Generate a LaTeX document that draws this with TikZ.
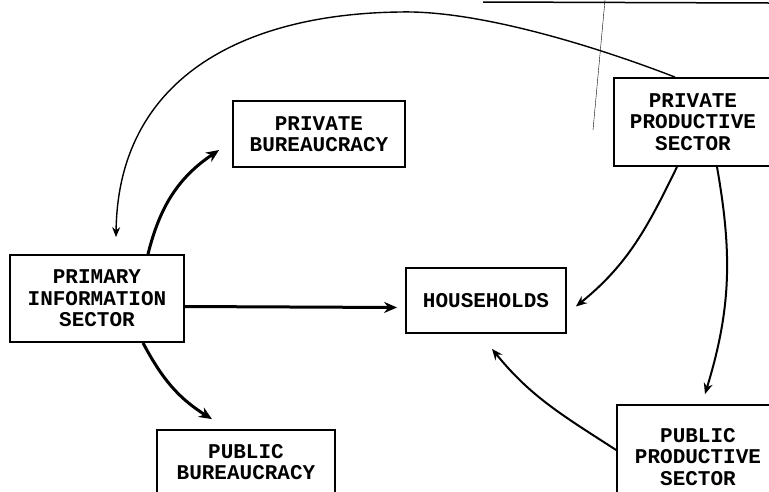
\documentclass[tikz,border=0pt]{standalone}
\usepackage{fontspec}
\setmonofont{Liberation Mono}
\usetikzlibrary{arrows.meta}

\begin{document}
\begin{tikzpicture}[x=1pt,y=-1pt,
        sect/.style={draw,line width=1.8pt,inner sep=0pt,align=center,
            font=\ttfamily\bfseries\fontsize{21}{21.5}\selectfont},
        flow/.style={line width=2pt,-{Stealth[length=11pt,width=9pt]}},
        bigflow/.style={line width=3pt,-{Stealth[length=13pt,width=11pt]}},
        longflow/.style={line width=1.4pt,-{Stealth[length=10pt,width=8pt]}}]
                    \useasboundingbox (0,0) rectangle (769,491);
                    \clip (0,0) rectangle (769,491);
                    \node [sect,minimum width=174pt,minimum height=87pt] (prim) at (97,298.5) {PRIMARY\\INFORMATION\\SECTOR};
                    \node [sect,minimum width=172pt,minimum height=66pt] (pbur) at (319,134) {PRIVATE\\BUREAUCRACY};
                    \node [sect,minimum width=158pt,minimum height=88pt] (ppriv) at (693,122) {PRIVATE\\PRODUCTIVE\\SECTOR};
                    \node [sect,minimum width=160pt,minimum height=65pt] (hh) at (486,300.5) {HOUSEHOLDS};
                    \node [sect,minimum width=162pt,minimum height=104pt] (pprod) at (698,457) {PUBLIC\\PRODUCTIVE\\SECTOR};
                    \node [sect,minimum width=178pt,minimum height=64pt] (pubbur) at (246,462) {PUBLIC\\BUREAUCRACY};
                    \coordinate (back) at ([xshift=19pt,yshift=17pt]prim.north);
                    \draw [longflow] ([xshift=-18pt]ppriv.north) .. controls (600,48) and (480,10) .. (400,12)
                        .. controls (240,14) and (118,80) .. (back);
                    \draw [bigflow] ([xshift=51pt]prim.north) to[out=76,in=214] ([xshift=-13pt,yshift=-16pt]pbur.west);
                    \draw [bigflow] ([yshift=-8pt]prim.east) -- ([xshift=-8pt,yshift=-7pt]hh.west);
                    \draw [bigflow] ([xshift=46pt]prim.south) to[out=298,in=148] ([xshift=-34pt,yshift=10pt]pubbur.north);
                    \draw [flow] ([xshift=-16pt]ppriv.south) to[out=244,in=39] ([xshift=9pt,yshift=-6pt]hh.east);
                    \draw [flow] ([xshift=24pt]ppriv.south) to[out=280,in=73] ([xshift=7pt,yshift=10pt]pprod.north);
                    \draw [flow] ([yshift=7pt]pprod.west) to[out=147,in=-51] ([xshift=6pt,yshift=-15pt]hh.south);
                    \draw [line width=1.5pt] (483,2)--(769,3);
                    \draw [thin] (605,0)--(593,130);
            \end{tikzpicture}
\end{document}
